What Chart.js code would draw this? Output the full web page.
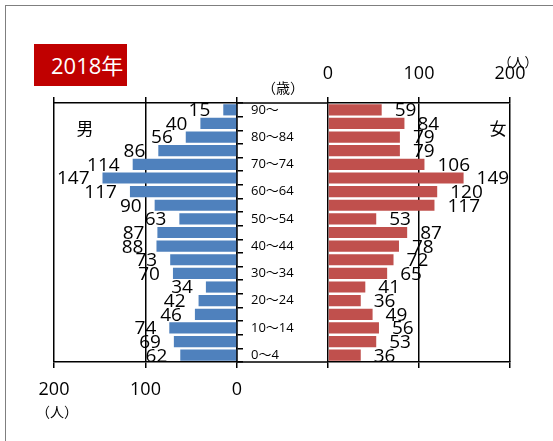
<!DOCTYPE html>
<html>
<head>
<meta charset="utf-8">
<script src="https://cdn.jsdelivr.net/npm/chart.js@4"></script>
<style>
  html, body { margin: 0; padding: 0; background: #fff; }
  body { width: 553px; height: 441px; position: relative; overflow: hidden;
         font-family: "Open Sans", "Noto Sans CJK JP", sans-serif; color: #000; }
  .frame { position: absolute; left: 5px; top: 5px; width: 600px; height: 500px;
           border: 1.5px solid #7f7f7f; }
  .title { position: absolute; left: 34px; top: 44px; width: 93px; height: 42px;
           background: #c00000; color: #fff; font-size: 22px; line-height: 42px;
           padding-left: 17px; box-sizing: border-box; white-space: nowrap; }
  .txt { position: absolute; transform: translate(-50%, -50%); white-space: nowrap; }
  canvas { position: absolute; top: 0; }
  #maleChart { left: 0; }
  #femaleChart { left: 300px; }
</style>
</head>
<body>
<div class="frame"></div>
<div class="title">2018年</div>

<canvas id="maleChart" width="328" height="441"></canvas>
<canvas id="femaleChart" width="253" height="441"></canvas>

<div class="txt" style="left:283px; top:87px; font-size:14px;">（歳）</div>
<div class="txt" style="left:85px; top:127px; font-size:17px;">男</div>
<div class="txt" style="left:498px; top:127px; font-size:17px;">女</div>
<div class="txt" style="left:518px; top:61px; font-size:13px;">（人）</div>
<div class="txt" style="left:57px; top:411px; font-size:14px;">（人）</div>

<script>
// 年齢階級（上から）
const ageGroups = ['90～', '85～89', '80～84', '75～79', '70～74', '65～69', '60～64', '55～59',
    '50～54', '45～49', '40～44', '35～39', '30～34', '25～29', '20～24', '15～19',
    '10～14', '5～9', '0～4'];
// 男性人口
const maleValues = [15, 40, 56, 86, 114, 147, 117, 90, 63, 87, 88, 73, 70, 34, 42, 46, 74, 69, 62];
// 女性人口
const femaleValues = [59, 84, 79, 79, 106, 149, 120, 117, 53, 87, 78, 72, 65, 41, 36, 49, 56, 53, 36];
// 人数の目盛
const axisMin = 0;
const axisMax = 200;
const axisStep = 100;

const LINE = '#000';
const LW = 1.5;

// 棒の端に数値を描く
const barLabels = {
    id: 'barLabels',
    afterDatasetsDraw(chart, args, opts) {
        const ctx = chart.ctx;
        const meta = chart.getDatasetMeta(0);
        const vals = chart.data.datasets[0].data;
        ctx.save();
        ctx.font = '19px "Open Sans"';
        ctx.fillStyle = '#000';
        ctx.textBaseline = 'middle';
        ctx.textAlign = opts.side === 'left' ? 'right' : 'left';
        meta.data.forEach((bar, i) => {
            const x = opts.side === 'left' ? bar.x - 13 : bar.x + 13;
            ctx.fillText(vals[i], x, bar.y + 1);
        });
        ctx.restore();
    }
};

// 男女の間の上下の線
const gapLines = {
    id: 'gapLines',
    afterDraw(chart) {
        const ctx = chart.ctx;
        const a = chart.chartArea;
        ctx.save();
        ctx.strokeStyle = LINE;
        ctx.lineWidth = LW;
        ctx.beginPath();
        ctx.moveTo(a.right, a.top);
        ctx.lineTo(chart.width, a.top);
        ctx.moveTo(a.right, a.bottom);
        ctx.lineTo(chart.width, a.bottom);
        ctx.stroke();
        ctx.restore();
    }
};

function valueAxis(position, showLabels, reverse, height, onArea) {
    return {
        type: 'linear',
        axis: 'x',
        position: position,
        reverse: reverse,
        min: axisMin,
        max: axisMax,
        ticks: {
            display: showLabels,
            stepSize: axisStep,
            color: '#000',
            padding: position === 'top' ? 12 : 11,
            font: { family: '"Open Sans"', size: 18 }
        },
        grid: { color: LINE, lineWidth: LW, tickLength: 6, drawOnChartArea: onArea },
        border: { display: true, color: LINE, width: LW },
        afterFit: s => { s.height = height; }
    };
}

// === 男 ===
new Chart(document.getElementById('maleChart'), {
    type: 'bar',
    data: {
        labels: ageGroups,
        datasets: [{
            data: maleValues,
            backgroundColor: '#4f81bd',
            barPercentage: 0.82,
            categoryPercentage: 1,
            xAxisID: 'x',
            yAxisID: 'y'
        }]
    },
    options: {
        indexAxis: 'y',
        responsive: false,
        devicePixelRatio: 1,
        animation: false,
        layout: { padding: { left: 54, right: 0, top: 0, bottom: 0 } },
        scales: {
            x: valueAxis('bottom', true, true, 79, true),
            x2: valueAxis('top', false, true, 103, false),
            y: {
                type: 'category',
                position: 'right',
                offset: true,
                ticks: {
                    autoSkip: false,
                    color: '#000',
                    padding: 8,
                    font: { family: '"Open Sans", "Noto Sans CJK JP"', size: 13 },
                    callback: function(v, i) { return i % 2 === 0 ? this.getLabelForValue(v) : ''; }
                },
                grid: { offset: true, drawOnChartArea: false, color: LINE, lineWidth: LW, tickLength: 6 },
                border: { display: true, color: LINE, width: LW },
                afterFit: s => { s.width = 91; }
            }
        },
        plugins: {
            legend: { display: false },
            tooltip: { enabled: false },
            barLabels: { side: 'left' }
        }
    },
    plugins: [barLabels, gapLines]
});

// === 女 ===
new Chart(document.getElementById('femaleChart'), {
    type: 'bar',
    data: {
        labels: ageGroups,
        datasets: [{
            data: femaleValues,
            backgroundColor: '#c0504d',
            barPercentage: 0.82,
            categoryPercentage: 1,
            xAxisID: 'x',
            yAxisID: 'y'
        }]
    },
    options: {
        indexAxis: 'y',
        responsive: false,
        devicePixelRatio: 1,
        animation: false,
        layout: { padding: { left: 28, right: 43, top: 0, bottom: 0 } },
        scales: {
            x: valueAxis('top', true, false, 103, true),
            x2: valueAxis('bottom', false, false, 79, false),
            y: { type: 'category', display: false, offset: true }
        },
        plugins: {
            legend: { display: false },
            tooltip: { enabled: false },
            barLabels: { side: 'right' }
        }
    },
    plugins: [barLabels]
});
</script>
</body>
</html>
